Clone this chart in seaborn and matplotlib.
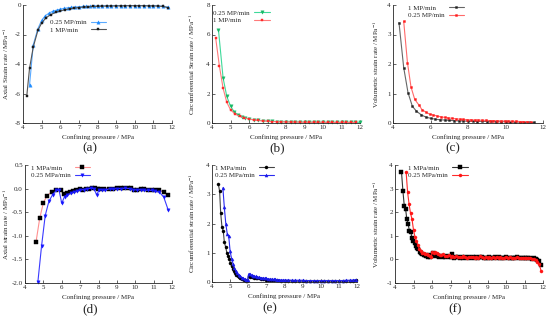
import numpy as np
import matplotlib
matplotlib.use("Agg")
import matplotlib.pyplot as plt
import seaborn as sns

# ---- panel (a): axial strain rate
a_x_025 = [4.35, 4.55, 4.8, 5.0, 5.2, 5.4, 5.6, 5.8, 6.0, 6.2,
           6.4, 6.6, 6.8, 7.0, 7.2, 7.4, 7.6, 7.8, 8.0, 8.25,
           8.5, 8.75, 9.0, 9.25, 9.5, 9.75, 10.0, 10.25, 10.5, 10.75,
           11.0, 11.25, 11.5, 11.8]
a_y_025 = [-5.45, -2.7, -1.6, -1.05, -0.72, -0.55, -0.42, -0.35, -0.28, -0.23,
           -0.19, -0.16, -0.14, -0.12, -0.1, -0.09, -0.08, -0.07, -0.06, -0.05,
           -0.05, -0.04, -0.04, -0.04, -0.04, -0.04, -0.04, -0.04, -0.04, -0.05,
           -0.05, -0.06, -0.08, -0.15]
a_x_1 = [4.2, 4.35, 4.55, 4.8, 5.0, 5.25, 5.5, 5.75, 6.0, 6.25,
         6.5, 6.75, 7.0, 7.25, 7.5, 7.75, 8.0, 8.25, 8.5, 8.75,
         9.0, 9.25, 9.5, 9.75, 10.0, 10.25, 10.5, 10.75, 11.0, 11.25,
         11.5, 11.8]
a_y_1 = [-6.2, -4.3, -2.85, -1.72, -1.22, -0.85, -0.65, -0.5, -0.4, -0.32,
         -0.26, -0.21, -0.17, -0.14, -0.12, -0.1, -0.09, -0.08, -0.07, -0.07,
         -0.06, -0.06, -0.05, -0.05, -0.05, -0.05, -0.05, -0.06, -0.06, -0.07,
         -0.1, -0.18]

# ---- panel (b): circumferential strain rate
b_x_025 = [4.35, 4.6, 4.8, 5.0, 5.2, 5.4, 5.6, 5.8, 6.0, 6.25,
           6.5, 6.75, 7.0, 7.25, 7.5, 7.75, 8.0, 8.25, 8.5, 8.75,
           9.0, 9.25, 9.5, 9.75, 10.0, 10.25, 10.5, 10.75, 11.0, 11.25,
           11.5, 11.75, 12.0]
b_y_025 = [6.3, 3.05, 1.8, 1.15, 0.75, 0.55, 0.42, 0.33, 0.27, 0.22,
           0.18, 0.15, 0.13, 0.11, 0.1, 0.09, 0.08, 0.08, 0.07, 0.07,
           0.06, 0.06, 0.06, 0.06, 0.05, 0.05, 0.05, 0.05, 0.05, 0.05,
           0.05, 0.05, 0.05]
b_x_1 = [4.2, 4.4, 4.6, 4.8, 5.0, 5.25, 5.5, 5.75, 6.0, 6.25,
         6.5, 6.75, 7.0, 7.25, 7.5, 7.75, 8.0, 8.25, 8.5, 8.75,
         9.0, 9.25, 9.5, 9.75, 10.0, 10.25, 10.5, 10.75, 11.0, 11.25,
         11.5, 11.8]
b_y_1 = [5.75, 3.85, 2.35, 1.4, 0.9, 0.6, 0.45, 0.35, 0.27, 0.21,
         0.17, 0.14, 0.12, 0.1, 0.09, 0.08, 0.07, 0.07, 0.06, 0.06,
         0.05, 0.05, 0.05, 0.05, 0.05, 0.04, 0.04, 0.04, 0.04, 0.04,
         0.04, 0.04]

# ---- panel (c): volumetric strain rate
c_x_1 = [4.32, 4.57, 4.8, 5.03, 5.25, 5.5, 5.75, 6.0, 6.25, 6.5,
         6.75, 7.0, 7.25, 7.5, 7.75, 8.0, 8.25, 8.5, 8.75, 9.0,
         9.25, 9.5, 9.75, 10.0, 10.25, 10.5, 10.75, 11.0, 11.25, 11.5]
c_y_1 = [3.4, 1.88, 1.03, 0.57, 0.4, 0.28, 0.2, 0.16, 0.13, 0.11,
         0.1, 0.09, 0.08, 0.07, 0.07, 0.06, 0.06, 0.05, 0.06, 0.05,
         0.07, 0.05, 0.04, 0.05, 0.04, 0.04, 0.03, 0.03, 0.02, 0.02]
c_x_025 = [4.57, 4.77, 4.96, 5.16, 5.37, 5.55, 5.75, 5.95, 6.15, 6.35,
           6.55, 6.75, 6.95, 7.15, 7.35, 7.55, 7.75, 7.95, 8.15, 8.35,
           8.55, 8.75, 8.95, 9.15, 9.35, 9.55, 9.75, 9.95, 10.15, 10.35,
           10.55, 10.75, 10.95, 11.15, 11.35]
c_y_025 = [3.45, 2.05, 1.22, 0.8, 0.62, 0.45, 0.37, 0.3, 0.27, 0.24,
           0.21, 0.19, 0.17, 0.16, 0.14, 0.13, 0.12, 0.11, 0.11, 0.1,
           0.1, 0.09, 0.09, 0.08, 0.08, 0.08, 0.07, 0.07, 0.07, 0.06,
           0.06, 0.05, 0.05, 0.04, 0.03]

# ---- panel (d): axial strain rate
d_x_1 = [4.6, 4.8, 5.0, 5.2, 5.45, 5.7, 5.95, 6.1, 6.3, 6.45,
         6.6, 6.8, 7.0, 7.15, 7.3, 7.5, 7.65, 7.8, 7.95, 8.1,
         8.3, 8.55, 8.8, 9.0, 9.2, 9.4, 9.6, 9.75, 9.95, 10.1,
         10.3, 10.5, 10.7, 10.9, 11.1, 11.3, 11.55, 11.8]
d_y_1 = [-1.13, -0.63, -0.3, -0.15, -0.07, -0.02, -0.02, -0.12, -0.1, -0.08,
         -0.06, -0.04, -0.01, -0.02, -0.01, 0.0, 0.01, 0.02, 0.0, 0.0,
         0.0, 0.0, -0.01, 0.02, 0.01, 0.02, 0.01, 0.02, -0.02, -0.02,
         -0.01, 0.0, -0.02, -0.02, -0.02, -0.03, -0.08, -0.14]
d_x_025 = [4.7, 4.9, 5.1, 5.3, 5.5, 5.7, 5.85, 6.0, 6.15, 6.3,
           6.5, 6.65, 6.85, 7.0, 7.2, 7.4, 7.6, 7.75, 7.9, 8.05,
           8.2, 8.35, 8.6, 8.8, 9.0, 9.2, 9.45, 9.7, 9.9, 10.1,
           10.3, 10.5, 10.7, 10.9, 11.1, 11.3, 11.55, 11.8]
d_y_025 = [-1.98, -1.22, -0.57, -0.27, -0.13, -0.04, -0.03, -0.31, -0.17, -0.13,
           -0.1, -0.07, -0.05, -0.03, -0.02, 0.0, 0.01, 0.0, -0.13, -0.02,
           -0.02, -0.04, 0.0, -0.01, 0.0, 0.0, 0.01, 0.0, -0.02, -0.03,
           -0.02, -0.04, -0.03, -0.04, -0.06, -0.07, -0.18, -0.46]

# ---- panel (e): circumferential strain rate
e_x_1 = [4.35, 4.42, 4.48, 4.55, 4.62, 4.68, 4.75, 4.82, 4.88, 4.95,
         5.02, 5.08, 5.15, 5.22, 5.28, 5.35, 5.42, 5.48, 5.55, 5.62,
         5.68, 5.75, 5.82, 5.88, 5.95, 6.02, 6.1, 6.2, 6.3, 6.4,
         6.5, 6.6, 6.7, 6.8, 6.9, 7.0, 7.1, 7.2, 7.3, 7.4,
         7.6, 7.8, 8.0, 8.2, 8.4, 8.6, 8.8, 9.0, 9.2, 9.4,
         9.6, 9.8, 10.0, 10.2, 10.4, 10.6, 10.8, 11.0, 11.2, 11.4,
         11.6, 11.8, 11.95]
e_y_1 = [3.35, 3.10, 2.35, 1.88, 1.75, 1.37, 1.20, 1.00, 0.90, 0.78,
         0.65, 0.53, 0.44, 0.36, 0.30, 0.25, 0.21, 0.17, 0.14, 0.12,
         0.10, 0.08, 0.07, 0.05, 0.04, 0.20, 0.18, 0.16, 0.15, 0.14,
         0.13, 0.12, 0.11, 0.10, 0.09, 0.08, 0.08, 0.07, 0.07, 0.06,
         0.06, 0.05, 0.05, 0.05, 0.05, 0.04, 0.04, 0.04, 0.04, 0.04,
         0.04, 0.04, 0.04, 0.04, 0.04, 0.04, 0.04, 0.04, 0.04, 0.05,
         0.05, 0.05, 0.06]
e_x_025 = [4.6, 4.68, 4.76, 4.84, 4.92, 5.0, 5.08, 5.16, 5.24, 5.32,
           5.4, 5.48, 5.56, 5.64, 5.72, 5.8, 5.88, 5.96, 6.02, 6.1,
           6.18, 6.26, 6.34, 6.42, 6.5, 6.6, 6.7, 6.8, 6.9, 7.0,
           7.1, 7.2, 7.3, 7.4, 7.5, 7.6, 7.7, 7.8, 7.9, 8.0,
           8.2, 8.4, 8.6, 8.8, 9.0, 9.2, 9.4, 9.6, 9.8, 10.0,
           10.2, 10.4, 10.6, 10.8, 11.0, 11.2, 11.4, 11.6, 11.8, 11.95]
e_y_025 = [3.22, 2.55, 2.0, 1.65, 1.58, 1.05, 0.8, 0.62, 0.48, 0.38,
           0.3, 0.24, 0.19, 0.15, 0.12, 0.1, 0.08, 0.06, 0.28, 0.26,
           0.24, 0.22, 0.2, 0.19, 0.18, 0.16, 0.15, 0.14, 0.13, 0.12,
           0.11, 0.1, 0.1, 0.09, 0.09, 0.08, 0.08, 0.07, 0.07, 0.07,
           0.07, 0.06, 0.06, 0.06, 0.06, 0.05, 0.05, 0.05, 0.05, 0.05,
           0.05, 0.05, 0.05, 0.05, 0.05, 0.05, 0.06, 0.06, 0.07, 0.08]

# ---- panel (f): volumetric strain rate
f_x_1 = [4.35, 4.43, 4.5, 4.57, 4.64, 4.71, 4.78, 4.85, 4.92, 4.99,
         5.06, 5.13, 5.2, 5.27, 5.34, 5.41, 5.48, 5.55, 5.62, 5.69,
         5.76, 5.83, 5.9, 5.97, 6.04, 6.11, 6.18, 6.25, 6.32, 6.4,
         6.5, 6.6, 6.7, 6.8, 6.9, 7.0, 7.1, 7.2, 7.3, 7.4,
         7.5, 7.6, 7.7, 7.8, 7.9, 8.0, 8.1, 8.2, 8.3, 8.4,
         8.5, 8.6, 8.7, 8.8, 8.9, 9.0, 9.1, 9.2, 9.3, 9.4,
         9.5, 9.6, 9.7, 9.8, 9.9, 10.0, 10.1, 10.2, 10.3, 10.4,
         10.5, 10.6, 10.7, 10.8, 10.9, 11.0, 11.1, 11.2, 11.3, 11.4,
         11.5, 11.6, 11.7, 11.8, 11.87]
f_y_1 = [3.72, 2.88, 2.28, 2.15, 1.70, 1.50, 1.20, 1.18, 0.90, 0.80,
         0.70, 0.55, 0.50, 0.42, 0.33, 0.28, 0.22, 0.20, 0.18, 0.15,
         0.12, 0.18, 0.10, 0.14, 0.28, 0.20, 0.16, 0.18, 0.14, 0.12,
         0.15, 0.12, 0.10, 0.14, 0.10, 0.12, 0.22, 0.08, 0.10, 0.12,
         0.08, 0.10, 0.07, 0.11, 0.06, 0.09, 0.08, 0.12, 0.07, 0.10,
         0.06, 0.09, 0.10, 0.07, 0.08, 0.06, 0.10, 0.08, 0.05, 0.09,
         0.07, 0.12, 0.06, 0.08, 0.05, 0.09, 0.07, 0.06, 0.08, 0.05,
         0.07, 0.09, 0.05, 0.06, 0.08, 0.04, 0.06, 0.07, 0.05, 0.03,
         0.06, 0.02, -0.02, -0.05, -0.25]
f_x_025 = [4.6, 4.68, 4.76, 4.84, 4.92, 5.0, 5.08, 5.16, 5.24, 5.32,
           5.4, 5.48, 5.56, 5.64, 5.72, 5.8, 5.88, 5.96, 6.02, 6.1,
           6.18, 6.26, 6.34, 6.42, 6.5, 6.6, 6.7, 6.8, 6.9, 7.0,
           7.1, 7.2, 7.3, 7.4, 7.5, 7.6, 7.7, 7.8, 7.9, 8.0,
           8.1, 8.2, 8.3, 8.4, 8.5, 8.6, 8.7, 8.8, 8.9, 9.0,
           9.1, 9.2, 9.3, 9.4, 9.5, 9.6, 9.7, 9.8, 9.9, 10.0,
           10.1, 10.2, 10.3, 10.4, 10.5, 10.6, 10.7, 10.8, 10.9, 11.0,
           11.1, 11.2, 11.3, 11.4, 11.5, 11.6, 11.7, 11.8, 11.9]
f_y_025 = [3.72, 2.85, 2.35, 1.95, 1.70, 1.25, 0.95, 0.78, 0.60, 0.45,
           0.35, 0.28, 0.27, 0.24, 0.22, 0.20, 0.16, 0.10, 0.32, 0.28,
           0.30, 0.25, 0.22, 0.20, 0.18, 0.22, 0.15, 0.14, 0.17, 0.12,
           0.14, 0.11, 0.13, 0.10, 0.12, 0.09, 0.13, 0.10, 0.08, 0.11,
           0.09, 0.12, 0.07, 0.10, 0.08, 0.13, 0.09, 0.07, 0.11, 0.08,
           0.10, 0.06, 0.09, 0.08, 0.11, 0.07, 0.09, 0.06, 0.08, 0.10,
           0.07, 0.09, 0.06, 0.08, 0.05, 0.09, 0.07, 0.06, 0.08, 0.05,
           0.06, 0.04, 0.05, 0.03, 0.02, -0.02, -0.10, -0.20, -0.50]

sns.set_style("ticks")
plt.rcParams['font.family'] = ['Liberation Serif', 'DejaVu Serif']
plt.rcParams['mathtext.fontset'] = 'stix'
plt.rcParams['axes.unicode_minus'] = False

W, H = 550, 320
fig = plt.figure(figsize=(5.5, 3.2), dpi=100)
legends = []


def make_ax(left, top, right, bottom):
    # pixel box -> figure fraction
    ax = fig.add_axes([left / W, 1 - bottom / H, (right - left) / W, (bottom - top) / H])
    ax.px_box = (left, right)
    return ax


def style(ax, ylim, yticks, xticks, ylabel, label_px, ytickfmt=None):
    ax.set_xlim(4, 12)
    ax.set_ylim(*ylim)
    ax.set_xticks(xticks)
    ax.set_yticks(yticks)
    if ytickfmt:
        ax.set_yticklabels([ytickfmt.format(v) for v in yticks])
    ax.tick_params(labelsize=5, direction='in', length=2, width=0.5, pad=1.5)
    ax.set_xlabel('Confining pressure / MPa', fontsize=5, labelpad=3)
    ax.set_ylabel(ylabel + r' / MPa$^{-1}$', fontsize=5)
    # label_px = centre of the rotated label in pixels; anchor is its right edge
    left, right = ax.px_box
    ax.yaxis.set_label_coords((label_px + 3 - left) / (right - left), 0.5)
    for s in ['left', 'bottom']:
        ax.spines[s].set_linewidth(0.6)
    sns.despine(ax=ax)


def series(ax, x, y, label, mcolor, lcolor, marker, ms=2.2):
    sns.lineplot(x=x, y=y, ax=ax, label=label, color=lcolor, linewidth=0.8,
                 marker=marker, markersize=ms, markerfacecolor=mcolor,
                 markeredgecolor=mcolor, markeredgewidth=0.3, sort=False,
                 estimator=None, clip_on=False)


def legend(ax, x, y):
    leg = ax.legend(loc='upper left', bbox_to_anchor=(x, y), frameon=False, fontsize=5,
                    markerfirst=False, handlelength=2.2, handletextpad=0.6,
                    labelspacing=0.25, borderpad=0, borderaxespad=0)
    legends.append(leg)


# (a)
ax = make_ax(23, 5, 172, 123)
series(ax, a_x_025, a_y_025, '0.25 MP/min', '#1e8cff', '#5aaaff', '^', 2.4)
series(ax, a_x_1, a_y_1, '1 MP/min', '#1a1a1a', '#555555', 's', 1.9)
style(ax, (-8, 0), [-8, -6, -4, -2, 0], range(4, 13), 'Axial Strain rate', 8)
legend(ax, 0.18, 0.88)

# (b)
ax = make_ax(212, 5, 360, 123)
series(ax, b_x_025, b_y_025, '0.25 MP/min', '#16b865', '#3fd99a', 'v', 2.4)
series(ax, b_x_1, b_y_1, '1 MP/min', '#ff2a2a', '#ff7a7a', 's', 1.9)
style(ax, (0, 8), [0, 2, 4, 6, 8], range(4, 13), 'Circumferential Strain rate', 194)
legend(ax, 0.01, 0.96)

# (c)
ax = make_ax(393, 5, 543, 123)
series(ax, c_x_1, c_y_1, '1 MP/min', '#222222', '#666666', 's', 1.4)
series(ax, c_x_025, c_y_025, '0.25 MP/min', '#ff1a1a', '#ff6a6a', 's', 1.4)
style(ax, (0, 4), [0, 1, 2, 3, 4], [4, 6, 8, 10, 12], 'Volumetric strain rate', 378)
legend(ax, 0.10, 1.0)

# (d)
ax = make_ax(25, 165, 172, 283)
series(ax, d_x_1, d_y_1, '1 MPa/min', '#000000', '#ff9090', 's', 2.2)
series(ax, d_x_025, d_y_025, '0.25 MPa/min', '#1515ff', '#3a3aff', 'v', 2.4)
style(ax, (-2.0, 0.5), [-2.0, -1.5, -1.0, -0.5, 0.0, 0.5], range(4, 13),
      'Axial strain rate', 8, '{:.1f}')
legend(ax, 0.04, 1.0)

# (e)
ax = make_ax(212, 165, 357, 282)
series(ax, e_x_1, e_y_1, '1 MPa/min', '#000000', '#444444', 'o', 2.2)
series(ax, e_x_025, e_y_025, '0.25 MPa/min', '#1a1ae8', '#2a2af0', '^', 2.2)
style(ax, (0, 4), [0, 1, 2, 3, 4], range(4, 13), 'Circumferential strain rate', 194)
legend(ax, 0.02, 1.0)

# (f)
ax = make_ax(395, 165, 543, 283)
series(ax, f_x_1, f_y_1, '1 MPa/min', '#000000', '#333333', 's', 2.2)
series(ax, f_x_025, f_y_025, '0.25 MPa/min', '#ff1515', '#ff2a2a', 'o', 2.2)
style(ax, (-1, 4), [-1, 0, 1, 2, 3, 4], range(4, 13), 'Volumetric strain rate', 378)
legend(ax, 0.09, 1.0)

# panel letters
for lab, px, py in [('(a)', 90, 148), ('(b)', 277, 148), ('(c)', 453, 148),
                    ('(d)', 90, 309), ('(e)', 270, 308), ('(f)', 455, 309)]:
    fig.text(px / W, 1 - py / H, lab, fontsize=9.5, ha='center', va='center')

# legend labels left-aligned, handles lined up on the right
fig.canvas.draw()
r = fig.canvas.get_renderer()
for leg in legends:
    for col in leg._legend_handle_box.get_children():
        items = col.get_children()
        widths = [it.get_children()[0].get_bbox(r).width for it in items]
        wmax = max(widths)
        for it, w in zip(items, widths):
            it.sep = it.sep + (wmax - w) * 72 / fig.dpi
        col.align = 'left'

fig.savefig('out.png', dpi=100)
